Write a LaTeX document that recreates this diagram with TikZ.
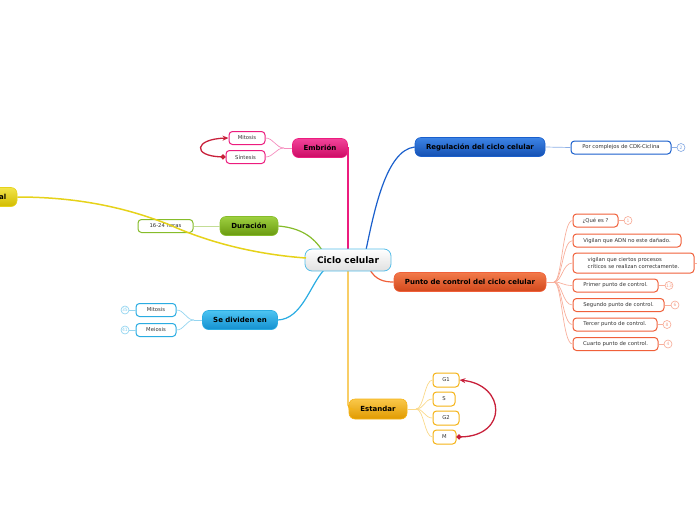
\documentclass[tikz,border=0pt]{standalone}
\usepackage{fontspec}
\setmainfont{DejaVu Sans}
\usetikzlibrary{arrows.meta,calc}
\definecolor{pinkA}{HTML}{F2449A}\definecolor{pinkB}{HTML}{CC0A64}\definecolor{pinkL}{HTML}{EC1C7E}
\definecolor{blueA}{HTML}{3D84E6}\definecolor{blueB}{HTML}{1450B2}\definecolor{blueL}{HTML}{1A5FCC}
\definecolor{greenA}{HTML}{9ED040}\definecolor{greenB}{HTML}{6A9A10}\definecolor{greenL}{HTML}{86BC2A}
\definecolor{yelA}{HTML}{F2E44A}\definecolor{yelB}{HTML}{D2BC00}\definecolor{yelL}{HTML}{E6D21A}
\definecolor{cyanA}{HTML}{4CC4F2}\definecolor{cyanB}{HTML}{1490D0}\definecolor{cyanL}{HTML}{2AACE2}
\definecolor{orA}{HTML}{F27A4A}\definecolor{orB}{HTML}{D2481C}\definecolor{orL}{HTML}{F0603A}
\definecolor{ambA}{HTML}{FAC84A}\definecolor{ambB}{HTML}{E09A00}\definecolor{ambL}{HTML}{F5B316}
\definecolor{arrowred}{HTML}{C8203A}
\definecolor{txt}{HTML}{333333}
\tikzset{
  topic/.style n args={3}{rounded corners=6pt, draw=#3, line width=0.6pt, top color=#1, bottom color=#2,
    inner sep=0pt, minimum height=19pt, font=\fontsize{7}{8}\selectfont\bfseries, text=black},
  child/.style={draw=#1, line width=1pt, fill=white, rounded corners=3.5pt, inner sep=0pt,
    minimum height=13pt, font=\fontsize{5.3}{6.4}\selectfont, text=txt},
  badge/.style={circle, draw=#1!55, line width=0.6pt, fill=white, inner sep=0pt, minimum size=8pt,
    font=\fontsize{4.5}{5}\selectfont, text=#1!55},
  conn/.style={draw=#1, line width=1.2pt},
  fan/.style={draw=#1!50, line width=0.7pt},
  redarrow/.style={draw=arrowred, line width=1.3pt, {Circle[length=5pt]}-{Stealth[length=6pt,width=5pt]}}
}
\begin{document}
\begin{tikzpicture}[x=1pt,y=-1pt]
\useasboundingbox (0,0) rectangle (697,520);

% main nodes
\node[topic={pinkA}{pinkB}{pinkL}, minimum width=55pt] (emb) at (320,148) {Embrión};
\node[topic={blueA}{blueB}{blueL}, minimum width=130pt] (reg) at (480,147) {Regulación del ciclo celular};
\node[topic={greenA}{greenB}{greenL}, minimum width=58pt] (dur) at (249,226) {Duración};
\node[topic={yelA}{yelB}{yelL}, minimum width=50pt] (yel) at (-8,197) {Normal};
\node[topic={cyanA}{cyanB}{cyanL}, minimum width=75pt] (sed) at (240,320) {Se dividen en};
\node[topic={orA}{orB}{orL}, minimum width=152pt] (pun) at (470,282) {Punto de control del ciclo celular};
\node[topic={ambA}{ambB}{ambL}, minimum width=58pt, minimum height=20pt] (est) at (378,409) {Estandar};

% central connectors (drawn before central node)
\coordinate (cctop) at (348,249);
\draw[conn=pinkL] (emb.east) -| (cctop);
\draw[conn=ambL, rounded corners=4pt] (348,271) |- (est.west);
\draw[conn=blueL] (366,250) .. controls (374,212) and (386,150) .. (reg.west);
\draw[conn=orL] (370,270) .. controls (376,280) and (384,282) .. (pun.west);
\draw[conn=greenL] (dur.east) .. controls (302,228) and (314,238) .. (322,250);
\draw[conn=cyanL] (sed.east) .. controls (302,319) and (310,285) .. (324,270);

\node[rounded corners=7pt, draw=cyanL!80, line width=0.8pt, top color=white, bottom color=black!12,
  minimum width=86pt, minimum height=22pt, inner sep=0pt, font=\fontsize{9}{10}\selectfont\bfseries] (cc) at (348,260) {Ciclo celular};

% Embrion children
\node[child=pinkL, minimum width=36pt] (mit1) at (247,138) {Mitosis};
\node[child=pinkL, minimum width=39pt] (sin) at (245.5,157) {Síntesis};
\coordinate (embf) at (284,148);
\draw[fan=pinkL] (emb.west) -- (embf);
\draw[fan=pinkL] (embf) .. controls +(-8,0) and +(8,0) .. (mit1.east);
\draw[fan=pinkL] (embf) .. controls +(-8,0) and +(8,0) .. (sin.east);
\draw[redarrow] (sin.west) .. controls (192,156) and (194,139) .. (mit1.west);

% Regulacion child
\node[child=blueL, minimum width=100pt] (cdk) at (621,147.5) {Por complejos de CDK-Ciclina};
\draw[fan=blueL] (reg.east) -- (cdk.west);
\node[badge=blueL] (b2) at (681,147.5) {2};
\draw[fan=blueL] (cdk.east) -- (b2.west);

% Duracion child
\node[child=greenL, minimum width=55pt] (hrs) at (165.5,226) {16-24 horas};
\draw[fan=greenL] (dur.west) -- (hrs.east);
\draw[conn=yelL, line width=1.5pt] (yel.east) .. controls (70,197) and (120,205) .. (170,225)
  .. controls (203,240) and (250,254) .. (306,258);

% Se dividen children
\node[child=cyanL, minimum width=40pt] (mit2) at (156,310) {Mitosis};
\node[child=cyanL, minimum width=40pt] (mei) at (156,330) {Meiosis};
\coordinate (sedf) at (194,320);
\draw[fan=cyanL] (sed.west) -- (sedf);
\draw[fan=cyanL] (sedf) .. controls +(-8,0) and +(8,0) .. (mit2.east);
\draw[fan=cyanL] (sedf) .. controls +(-8,0) and +(8,0) .. (mei.east);
\node[badge=cyanL] (b35) at (125,310) {35};
\node[badge=cyanL] (b41) at (125,330) {41};
\draw[fan=cyanL] (mit2.west) -- (b35.east);
\draw[fan=cyanL] (mei.west) -- (b41.east);

% Punto children
\node[child=orL, minimum width=45pt] (q1) at (595.5,220.5) {¿Qué es ?};
\node[child=orL, minimum width=108pt] (q2) at (627,240.5) {Vigilan que ADN no este dañado.};
\node[child=orL, minimum width=121pt, minimum height=20pt, align=left] (q3) at (633.5,263)
  {vigilan que ciertos procesos\\críticos se realizan correctamente.};
\node[child=orL, minimum width=85pt] (q4) at (615.5,285.5) {Primer punto de control.};
\node[child=orL, minimum width=91pt] (q5) at (618.5,305) {Segundo punto de control.};
\node[child=orL, minimum width=84pt] (q6) at (615,324.5) {Tercer punto de control.};
\node[child=orL, minimum width=85pt] (q7) at (615.5,344) {Cuarto punto de control.};
\coordinate (punf) at (554,282);
\draw[fan=orL] (pun.east) -- (punf);
\foreach \c in {q1,q2,q3,q4,q5,q6,q7} \draw[fan=orL] (punf) .. controls +(8,0) and +(-10,0) .. (\c.west);
\node[badge=orL] (p1) at (628,220.5) {1};
\node[badge=orL] (p13) at (669,285.5) {13};
\node[badge=orL] (p6) at (675,305) {6};
\node[badge=orL] (p8) at (667,324.5) {8};
\node[badge=orL] (p4) at (668,344) {4};
\node[badge=orL] (p3) at (704,263) {};
\draw[fan=orL] (q1.east) -- (p1.west);
\draw[fan=orL] (q3.east) -- (p3.west);
\draw[fan=orL] (q4.east) -- (p13.west);
\draw[fan=orL] (q5.east) -- (p6.west);
\draw[fan=orL] (q6.east) -- (p8.west);
\draw[fan=orL] (q7.east) -- (p4.west);

% Estandar children
\node[child=ambL, minimum width=26pt, minimum height=14pt] (g1) at (446,380) {G1};
\node[child=ambL, minimum width=22pt, minimum height=14pt] (s) at (444,399) {S};
\node[child=ambL, minimum width=26pt, minimum height=14pt] (g2) at (446,418) {G2};
\node[child=ambL, minimum width=23pt, minimum height=14pt] (m) at (444.5,437) {M};
\coordinate (estf) at (416,409);
\draw[fan=ambL] (est.east) -- (estf);
\foreach \c in {g1,s,g2,m} \draw[fan=ambL] (estf) .. controls +(8,0) and +(-8,0) .. (\c.west);
\draw[redarrow] (m.east) .. controls (508,436) and (506,385) .. (g1.east);
\end{tikzpicture}
\end{document}
